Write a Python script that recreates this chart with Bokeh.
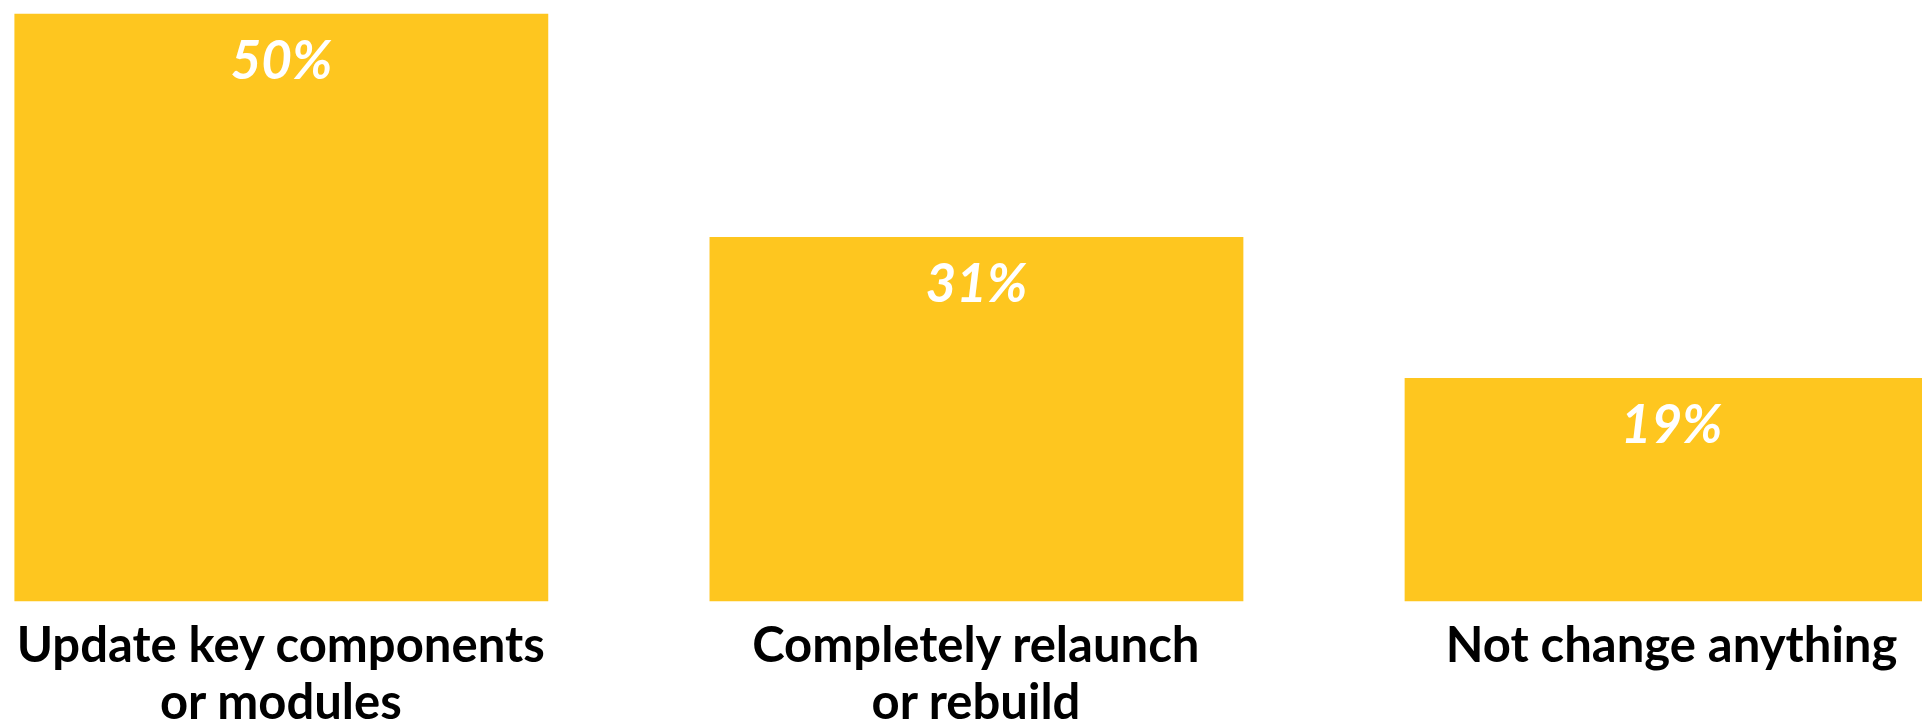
from bokeh.plotting import figure
from bokeh.models import ColumnDataSource, Range1d
from bokeh.core.properties import value
from bokeh.embed import file_html
from bokeh.resources import INLINE

categories = ["Update key components\nor modules", "Completely relaunch\nor rebuild", "Not change anything"]
values = [50, 31, 19]
value_labels = ["50%", "31%", "19%"]

BAR_COLOR = "#FEC61F"
FONT = "Lato"

xs = list(range(len(categories)))
bars = ColumnDataSource(dict(x=xs, top=values, label=value_labels))

lx, ltext, loff = [], [], []
for i, cat in enumerate(categories):
    for j, line in enumerate(cat.split("\n")):
        lx.append(i)
        ltext.append(line)
        loff.append(42 + 57 * j)
labels = ColumnDataSource(dict(x=lx, y=[0] * len(lx), text=ltext, off=loff))

p = figure(width=1922, height=724, x_range=Range1d(-0.404, 2.361), y_range=Range1d(-10.49, 51.12),
           output_backend="svg", toolbar_location=None, min_border=0,
           x_axis_type=None, y_axis_type=None)
p.grid.visible = False
p.outline_line_color = None
p.background_fill_color = "white"
p.border_fill_color = "white"

p.vbar(x="x", top="top", bottom=0, width=0.768, source=bars, fill_color=BAR_COLOR, line_color=None)

p.text(x="x", y="top", text="label", source=bars, text_align="center", text_baseline="alphabetic",
       y_offset=45, text_color="white", text_font=value(FONT), text_font_style="bold italic",
       text_font_size="53px")

p.text(x="x", y="y", text="text", source=labels, text_align="center", text_baseline="alphabetic",
       y_offset="off", text_color="black", text_font=value(FONT), text_font_style="bold",
       text_font_size="49px")

open("out.html", "w").write(file_html(p, INLINE))
